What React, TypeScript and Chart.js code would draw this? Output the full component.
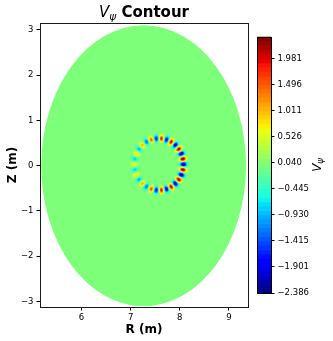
import React, { useEffect, useRef } from 'react';
import { Chart, registerables } from 'chart.js';
Chart.register(...registerables);

// ---- axes ----
const xTicks = [6, 7, 8, 9];
const yTicks = [-3, -2, -1, 0, 1, 2, 3];
const xRange = [5.155, 9.39];
const yRange = [-3.12, 3.15];

// ---- colorbar ----
const cbTicks = [-2.386, -1.901, -1.415, -0.930, -0.445, 0.040, 0.526, 1.011, 1.496, 1.981];
const cbRange = [-2.386, 2.386];
const cbLevelCount = 59;

// ---- plasma boundary (ellipse) ----
const boundaryR0 = 7.265;
const boundaryA = 2.085;
const boundaryZ0 = 0.0;
const boundaryB = 3.1;

// ---- V_psi perturbation lobes (R, Z, value) ----
const blobR = [8.075, 8.064, 8.032, 7.980, 7.910, 7.825, 7.730, 7.628, 7.523, 7.421, 7.325, 7.241, 7.171, 7.118, 7.086, 7.075, 7.086, 7.118, 7.171, 7.241, 7.325, 7.421, 7.523, 7.628, 7.730, 7.825, 7.910, 7.980, 8.032, 8.064];
const blobZ = [0.030, 0.149, 0.262, 0.365, 0.454, 0.524, 0.572, 0.597, 0.597, 0.572, 0.524, 0.454, 0.365, 0.262, 0.149, 0.030, -0.089, -0.202, -0.305, -0.394, -0.464, -0.512, -0.537, -0.537, -0.512, -0.464, -0.394, -0.305, -0.202, -0.089];
const blobV = [-2.5, 2.5, -2.4, 2.35, -2.25, 2.15, -2.05, 2.0, -1.85, 1.6, -1.35, 1.15, -1.0, 0.9, -0.85, 0.8, -0.85, 0.9, -1.0, 1.15, -1.4, 1.7, -1.95, 2.05, -2.15, 2.25, -2.35, 2.4, -2.5, 2.5];

const FONT = '"DejaVu Sans", "Liberation Sans", sans-serif';
const BLOB_SIGMA_T = 1.9;
const BLOB_SIGMA_R = 2.3;

const JR = [[0, 0], [0.35, 0], [0.66, 1], [0.89, 1], [1, 0.5]];
const JG = [[0, 0], [0.125, 0], [0.375, 1], [0.64, 1], [0.91, 0], [1, 0]];
const JB = [[0, 0.5], [0.11, 1], [0.34, 1], [0.65, 0], [1, 0]];
function seg(pts: number[][], x: number) {
  for (let i = 1; i < pts.length; i++) {
    if (x <= pts[i][0]) {
      const [x0, y0] = pts[i - 1];
      const [x1, y1] = pts[i];
      return y0 + ((y1 - y0) * (x - x0)) / (x1 - x0);
    }
  }
  return pts[pts.length - 1][1];
}
function jet(t: number) {
  const idx = Math.min(255, Math.max(0, Math.floor(t * 256)));
  const x = idx / 255;
  return [seg(JR, x), seg(JG, x), seg(JB, x)].map((c) => Math.round(c * 255));
}
const bandColors: number[][] = [];
for (let i = 0; i < cbLevelCount; i++) bandColors.push(jet((i + 0.5) / cbLevelCount));
function bandOf(v: number) {
  let i = Math.floor(((v - cbRange[0]) / (cbRange[1] - cbRange[0])) * cbLevelCount);
  if (i < 0) i = 0;
  if (i > cbLevelCount - 1) i = cbLevelCount - 1;
  return bandColors[i];
}
const fmtMinus = (v: number, d?: number) => {
  const s = d === undefined ? String(Math.abs(v)) : Math.abs(v).toFixed(d);
  return v < 0 ? '\u2212' + s : s;
};

function drawMathLabel(ctx: CanvasRenderingContext2D, x: number, y: number, size: number, rest: string) {
  const fV = `italic ${size}px ${FONT}`;
  const fS = `italic ${Math.round(size * 0.7 * 10) / 10}px ${FONT}`;
  const fR = `bold ${size}px ${FONT}`;
  ctx.font = fV;
  const wV = ctx.measureText('V').width;
  ctx.font = fS;
  const wS = ctx.measureText('\u03C8').width;
  ctx.font = fR;
  const wR = rest ? ctx.measureText(rest).width : 0;
  const total = wV + wS + wR;
  let sx = x - total / 2;
  ctx.textAlign = 'left';
  ctx.textBaseline = 'alphabetic';
  ctx.font = fV;
  ctx.fillText('V', sx, y);
  sx += wV;
  ctx.font = fS;
  ctx.fillText('\u03C8', sx, y + size * 0.2);
  sx += wS;
  if (rest) {
    ctx.font = fR;
    ctx.fillText(rest, sx, y);
  }
}

const fieldPlugin = {
  id: 'fieldPlugin',
  beforeDatasetsDraw(chart: any) {
    const { ctx, chartArea, scales } = chart;
    const x = scales.x;
    const y = scales.y;
    ctx.save();
    ctx.beginPath();
    ctx.rect(chartArea.left, chartArea.top, chartArea.right - chartArea.left, chartArea.bottom - chartArea.top);
    ctx.clip();
    const cx = x.getPixelForValue(boundaryR0);
    const cy = y.getPixelForValue(boundaryZ0);
    const rx = Math.abs(x.getPixelForValue(boundaryR0 + boundaryA) - cx);
    const ry = Math.abs(y.getPixelForValue(boundaryZ0 + boundaryB) - cy);
    const bg = bandOf(0);
    ctx.fillStyle = `rgb(${bg[0]},${bg[1]},${bg[2]})`;
    ctx.beginPath();
    ctx.ellipse(cx, cy, rx, ry, 0, 0, Math.PI * 2);
    ctx.fill();

    const raw = chart.data.datasets[0].data.map((d: any) => ({
      px: x.getPixelForValue(d.x),
      py: y.getPixelForValue(d.y),
      v: d.v,
    }));
    let mx = 0, my = 0;
    raw.forEach((p: any) => { mx += p.px; my += p.py; });
    mx /= raw.length; my /= raw.length;
    const pts = raw.map((p: any) => {
      const dx = p.px - mx, dy = p.py - my;
      const L = Math.hypot(dx, dy) || 1;
      return { ...p, ux: dx / L, uy: dy / L };
    });
    let x0 = Infinity, x1 = -Infinity, y0 = Infinity, y1 = -Infinity;
    pts.forEach((p: any) => {
      x0 = Math.min(x0, p.px); x1 = Math.max(x1, p.px);
      y0 = Math.min(y0, p.py); y1 = Math.max(y1, p.py);
    });
    const m = 12;
    x0 = Math.floor(x0 - m); y0 = Math.floor(y0 - m);
    x1 = Math.ceil(x1 + m); y1 = Math.ceil(y1 + m);
    const w = x1 - x0, h = y1 - y0;
    const img = ctx.createImageData(w, h);
    const st2 = 2 * BLOB_SIGMA_T * BLOB_SIGMA_T;
    const sr2 = 2 * BLOB_SIGMA_R * BLOB_SIGMA_R;
    for (let j = 0; j < h; j++) {
      for (let i = 0; i < w; i++) {
        const px = x0 + i + 0.5, py = y0 + j + 0.5;
        let v = 0;
        for (const p of pts) {
          const dx = px - p.px, dy = py - p.py;
          if (dx * dx + dy * dy > 144) continue;
          const dr = dx * p.ux + dy * p.uy;
          const dt = -dx * p.uy + dy * p.ux;
          v += p.v * Math.exp(-(dr * dr) / sr2 - (dt * dt) / st2);
        }
        const c = bandOf(v);
        const k = (j * w + i) * 4;
        img.data[k] = c[0]; img.data[k + 1] = c[1]; img.data[k + 2] = c[2]; img.data[k + 3] = 255;
      }
    }
    const off = document.createElement('canvas');
    off.width = w; off.height = h;
    off.getContext('2d')!.putImageData(img, 0, 0);
    ctx.drawImage(off, x0, y0);
    ctx.restore();
  },
  afterDraw(chart: any) {
    const { ctx, chartArea } = chart;
    ctx.save();
    ctx.strokeStyle = '#1a1a1a';
    ctx.lineWidth = 1;
    ctx.strokeRect(chartArea.left + 0.5, chartArea.top + 0.5, chartArea.right - chartArea.left, chartArea.bottom - chartArea.top);
    ctx.fillStyle = '#000';
    const mid = (chartArea.left + chartArea.right) / 2;
    drawMathLabel(ctx, mid, 17, 15, ' Contour');
    ctx.font = `bold 12px ${FONT}`;
    ctx.textAlign = 'center';
    ctx.textBaseline = 'alphabetic';
    ctx.fillText('R (m)', mid, 333);
    ctx.translate(15.7, (chartArea.top + chartArea.bottom) / 2);
    ctx.rotate(-Math.PI / 2);
    ctx.fillText('Z (m)', 0, 0);
    ctx.restore();
  },
};

const cbPlugin = {
  id: 'cbPlugin',
  beforeDatasetsDraw(chart: any) {
    const { ctx, chartArea, scales } = chart;
    const y = scales.y;
    const step = (cbRange[1] - cbRange[0]) / cbLevelCount;
    ctx.save();
    for (let i = 0; i < cbLevelCount; i++) {
      const va = cbRange[0] + i * step;
      const pa = y.getPixelForValue(va);
      const pb = y.getPixelForValue(va + step);
      const c = bandColors[i];
      ctx.fillStyle = `rgb(${c[0]},${c[1]},${c[2]})`;
      ctx.fillRect(chartArea.left, pb - 0.3, chartArea.right - chartArea.left, pa - pb + 0.6);
    }
    ctx.strokeStyle = '#000';
    ctx.lineWidth = 1;
    ctx.strokeRect(chartArea.left + 0.5, chartArea.top + 0.5, chartArea.right - chartArea.left, chartArea.bottom - chartArea.top);
    ctx.fillStyle = '#000';
    ctx.translate(chartArea.right + 50, (chartArea.top + chartArea.bottom) / 2);
    ctx.rotate(-Math.PI / 2);
    drawMathLabel(ctx, 0, 0, 12, '');
    ctx.restore();
  },
};

export default function App() {
  const mainRef = useRef<HTMLCanvasElement>(null);
  const cbRef = useRef<HTMLCanvasElement>(null);
  useEffect(() => {
    const tickFont = { family: FONT, size: 8.5 };
    const gridCfg = { display: true, drawOnChartArea: false, drawTicks: true, tickLength: 3.5, color: '#000', lineWidth: 1 };
    const main = new Chart(mainRef.current!, {
      type: 'scatter',
      data: {
        datasets: [
          {
            data: blobR.map((r, i) => ({ x: r, y: blobZ[i], v: blobV[i] })) as any,
            pointRadius: 0,
            pointHoverRadius: 0,
          },
        ],
      },
      options: {
        responsive: false,
        animation: false,
        events: [],
        layout: { padding: { top: 23, right: 85, left: 0, bottom: 0 } },
        plugins: { legend: { display: false }, tooltip: { enabled: false }, title: { display: false } },
        scales: {
          x: {
            type: 'linear',
            min: xRange[0],
            max: xRange[1],
            afterBuildTicks: (axis: any) => { axis.ticks = xTicks.map((v) => ({ value: v })); },
            afterFit: (axis: any) => { axis.height = 34; },
            ticks: { font: tickFont, color: '#000', padding: 2, maxRotation: 0, autoSkip: false, callback: (v: any) => fmtMinus(Number(v)) },
            grid: gridCfg,
            border: { display: false },
          },
          y: {
            type: 'linear',
            min: yRange[0],
            max: yRange[1],
            afterBuildTicks: (axis: any) => { axis.ticks = yTicks.map((v) => ({ value: v })); },
            afterFit: (axis: any) => { axis.width = 40; },
            ticks: { font: tickFont, color: '#000', padding: 3, autoSkip: false, callback: (v: any) => fmtMinus(Number(v)) },
            grid: gridCfg,
            border: { display: false },
          },
        },
      },
      plugins: [fieldPlugin],
    });
    const cb = new Chart(cbRef.current!, {
      type: 'scatter',
      data: { datasets: [{ data: [], pointRadius: 0 }] },
      options: {
        responsive: false,
        animation: false,
        events: [],
        layout: { padding: { top: 37, right: 0, left: 257, bottom: 48 } },
        plugins: { legend: { display: false }, tooltip: { enabled: false } },
        scales: {
          x: { type: 'linear', display: false, min: 0, max: 1 },
          y: {
            type: 'linear',
            position: 'right',
            min: cbRange[0],
            max: cbRange[1],
            afterBuildTicks: (axis: any) => { axis.ticks = cbTicks.map((v) => ({ value: v })); },
            afterFit: (axis: any) => { axis.width = 62; },
            ticks: { font: tickFont, color: '#000', padding: 3, autoSkip: false, callback: (v: any) => fmtMinus(Number(v), 3) },
            grid: gridCfg,
            border: { display: false },
          },
        },
      },
      plugins: [cbPlugin],
    });
    return () => {
      main.destroy();
      cb.destroy();
    };
  }, []);
  return (
    <div style={{ position: 'fixed', left: 0, top: 0, width: 333, height: 341, background: '#fff' }}>
      <canvas ref={mainRef} width={333} height={341} style={{ position: 'absolute', left: 0, top: 0 }} />
      <canvas ref={cbRef} width={333} height={341} style={{ position: 'absolute', left: 0, top: 0 }} />
    </div>
  );
}
